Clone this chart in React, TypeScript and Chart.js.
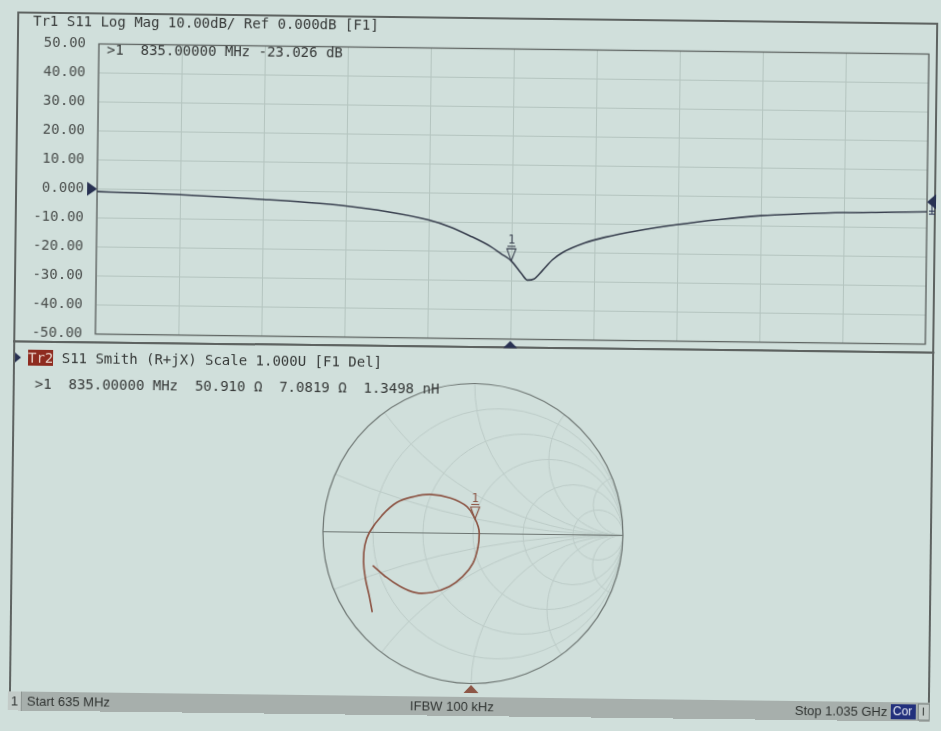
import React, { useEffect, useRef } from "react";
import { Chart, registerables } from "chart.js";

Chart.register(...registerables);

// ---------- data ----------
const freqMHz = [635, 655, 675, 695, 715, 735, 755, 775, 795, 805, 815, 825, 830, 835, 840, 843, 846, 850, 855, 860, 870, 880, 895, 915, 935, 955, 975, 995, 1015, 1035];
const s11dB = [-0.9, -1.2, -1.6, -2.2, -2.9, -3.7, -4.8, -6.6, -9.3, -11.5, -14.6, -18.2, -20.6, -23.03, -27.4, -29.6, -29.2, -26.3, -22.4, -19.8, -16.6, -14.5, -12.2, -9.8, -7.9, -6.4, -5.6, -5.0, -4.7, -4.4];
const startMHz = 635;
const stopMHz = 1035;
const freqStep = 40;
const dbMin = -50;
const dbMax = 50;
const dbStep = 10;
const refLevel = 0;
const markerFreq = 835;
const markerDb = -23.026;

const gammaRe = [-0.665, -0.687, -0.713, -0.727, -0.72, -0.69, -0.609, -0.509, -0.398, -0.287, -0.153, -0.042, 0.013, 0.035, 0.042, 0.035, 0.002, -0.065, -0.153, -0.265, -0.375, -0.487, -0.587, -0.665];
const gammaIm = [-0.532, -0.421, -0.31, -0.197, -0.088, 0.0, 0.112, 0.201, 0.241, 0.257, 0.235, 0.179, 0.097, 0.045, 0.001, -0.088, -0.199, -0.288, -0.355, -0.395, -0.399, -0.355, -0.288, -0.221];
const smithMarkerIndex = 12;
const resistanceCircles = [0.2, 0.5, 1, 2, 5];
const reactanceArcs = [0.2, 0.5, 1, 2, 5];
const markerR = 50.91;
const markerX = 7.0819;
const markerL = 1.3498;

// ---------- style ----------
const BG = "#d0dfdb";
const GRID = "#b4c4bf";
const SMITH_GRID = "#bccbc7";
const FRAME = "#5e6361";
const NAVY = "#283152";
const TRACE1 = "#3a4150";
const BROWN = "#8d5646";
const TEXT = "#363938";
const LABEL = "#4a4e4c";
const MONO = '"DejaVu Sans Mono", "Liberation Mono", monospace';
const SANS = '"Liberation Sans", Arial, sans-serif';

const logMagDecor = {
  id: "logMagDecor",
  beforeDatasetsDraw(chart: any) {
    const { ctx, chartArea: a } = chart;
    ctx.save();
    ctx.strokeStyle = FRAME;
    ctx.lineWidth = 1.3;
    ctx.strokeRect(a.left, a.top, a.right - a.left, a.bottom - a.top);
    ctx.restore();
  },
  afterDatasetsDraw(chart: any) {
    const { ctx, chartArea: a, scales } = chart;
    const x = scales.x;
    const y = scales.y;
    const y0 = y.getPixelForValue(refLevel);
    ctx.save();
    ctx.fillStyle = NAVY;
    // left reference triangle
    ctx.beginPath();
    ctx.moveTo(a.left - 10, y0 - 7);
    ctx.lineTo(a.left, y0);
    ctx.lineTo(a.left - 10, y0 + 7);
    ctx.closePath();
    ctx.fill();
    // right reference triangle
    ctx.beginPath();
    ctx.moveTo(a.right + 9, y0 - 5);
    ctx.lineTo(a.right, y0 + 3);
    ctx.lineTo(a.right + 9, y0 + 10);
    ctx.closePath();
    ctx.fill();
    ctx.strokeStyle = NAVY;
    ctx.lineWidth = 1;
    ctx.beginPath();
    ctx.moveTo(a.right + 2, y0 + 12);
    ctx.lineTo(a.right + 8, y0 + 12);
    ctx.moveTo(a.right + 5, y0 + 6);
    ctx.lineTo(a.right + 5, y0 + 15);
    ctx.moveTo(a.right + 2, y0 + 15);
    ctx.lineTo(a.right + 8, y0 + 15);
    ctx.stroke();
    // stimulus marker at bottom
    const mx = x.getPixelForValue(markerFreq);
    ctx.beginPath();
    ctx.moveTo(mx - 7, a.bottom + 9);
    ctx.lineTo(mx, a.bottom + 2);
    ctx.lineTo(mx + 7, a.bottom + 9);
    ctx.closePath();
    ctx.fill();
    // marker 1 on trace
    const my = y.getPixelForValue(markerDb);
    ctx.strokeStyle = TRACE1;
    ctx.lineWidth = 1.1;
    ctx.beginPath();
    ctx.moveTo(mx, my);
    ctx.lineTo(mx - 4.5, my - 12);
    ctx.lineTo(mx + 4.5, my - 12);
    ctx.closePath();
    ctx.stroke();
    ctx.beginPath();
    ctx.moveTo(mx - 4, my - 14.5);
    ctx.lineTo(mx + 4, my - 14.5);
    ctx.stroke();
    ctx.fillStyle = TRACE1;
    ctx.font = "12px " + MONO;
    ctx.textAlign = "center";
    ctx.textBaseline = "bottom";
    ctx.fillText("1", mx, my - 14);
    ctx.restore();
  },
};

const smithDecor = {
  id: "smithDecor",
  beforeDatasetsDraw(chart: any) {
    const { ctx, scales } = chart;
    const x = scales.x;
    const y = scales.y;
    const cx = x.getPixelForValue(0);
    const cy = y.getPixelForValue(0);
    const R = x.getPixelForValue(1) - cx;
    ctx.save();
    ctx.beginPath();
    ctx.arc(cx, cy, R, 0, Math.PI * 2);
    ctx.clip();
    ctx.strokeStyle = SMITH_GRID;
    ctx.lineWidth = 1;
    resistanceCircles.forEach((r) => {
      const c = r / (1 + r);
      const rad = 1 / (1 + r);
      ctx.beginPath();
      ctx.arc(x.getPixelForValue(c), cy, rad * R, 0, Math.PI * 2);
      ctx.stroke();
    });
    reactanceArcs.forEach((xv) => {
      [1, -1].forEach((sgn) => {
        ctx.beginPath();
        ctx.arc(x.getPixelForValue(1), y.getPixelForValue(sgn / xv), R / xv, 0, Math.PI * 2);
        ctx.stroke();
      });
    });
    ctx.restore();
    ctx.save();
    ctx.strokeStyle = "#6c7471";
    ctx.lineWidth = 1.2;
    ctx.beginPath();
    ctx.arc(cx, cy, R, 0, Math.PI * 2);
    ctx.stroke();
    ctx.beginPath();
    ctx.moveTo(x.getPixelForValue(-1), cy);
    ctx.lineTo(x.getPixelForValue(1), cy);
    ctx.stroke();
    ctx.restore();
  },
  afterDatasetsDraw(chart: any) {
    const { ctx, scales } = chart;
    const x = scales.x;
    const y = scales.y;
    const px = x.getPixelForValue(gammaRe[smithMarkerIndex]);
    const py = y.getPixelForValue(gammaIm[smithMarkerIndex]);
    ctx.save();
    ctx.strokeStyle = BROWN;
    ctx.lineWidth = 1.1;
    ctx.beginPath();
    ctx.moveTo(px, py);
    ctx.lineTo(px - 4.5, py - 12);
    ctx.lineTo(px + 4.5, py - 12);
    ctx.closePath();
    ctx.stroke();
    ctx.beginPath();
    ctx.moveTo(px - 4, py - 14.5);
    ctx.lineTo(px + 4, py - 14.5);
    ctx.stroke();
    ctx.fillStyle = BROWN;
    ctx.font = "12px " + MONO;
    ctx.textAlign = "center";
    ctx.textBaseline = "bottom";
    ctx.fillText("1", px, py - 14);
    // stimulus marker under the chart
    const cx = x.getPixelForValue(0);
    const by = y.getPixelForValue(-1);
    ctx.beginPath();
    ctx.moveTo(cx - 7.5, by + 9.5);
    ctx.lineTo(cx, by + 1.5);
    ctx.lineTo(cx + 7.5, by + 9.5);
    ctx.closePath();
    ctx.fill();
    ctx.restore();
  },
};

function fmtDb(v: number) {
  return v === 0 ? "0.000" : v.toFixed(2);
}

export default function App() {
  const topRef = useRef<HTMLCanvasElement | null>(null);
  const smithRef = useRef<HTMLCanvasElement | null>(null);

  useEffect(() => {
    const top = new Chart(topRef.current as HTMLCanvasElement, {
      type: "line",
      data: {
        datasets: [
          {
            data: freqMHz.map((f, i) => ({ x: f, y: s11dB[i] })),
            borderColor: TRACE1,
            borderWidth: 1.6,
            pointRadius: 0,
            cubicInterpolationMode: "monotone",
            fill: false,
          },
        ],
      },
      options: {
        responsive: false,
        animation: false,
        events: [],
        layout: { padding: { left: 0, right: 16, top: 48.5, bottom: 19 } },
        plugins: { legend: { display: false }, tooltip: { enabled: false }, title: { display: false } },
        scales: {
          x: {
            type: "linear",
            min: startMHz,
            max: stopMHz,
            ticks: { display: false, stepSize: freqStep, autoSkip: false },
            grid: { color: GRID, drawTicks: false, lineWidth: 1 },
            border: { display: false },
            afterFit: (s: any) => {
              s.height = 0;
            },
          },
          y: {
            min: dbMin,
            max: dbMax,
            ticks: {
              stepSize: dbStep,
              color: LABEL,
              font: { family: MONO, size: 14 },
              padding: 13,
              autoSkip: false,
              callback: (v: any) => fmtDb(Number(v)),
            },
            grid: { color: GRID, drawTicks: false, lineWidth: 1 },
            border: { display: false },
            afterFit: (s: any) => {
              s.width = 95;
            },
          },
        },
      } as any,
      plugins: [logMagDecor],
    } as any);

    const smith = new Chart(smithRef.current as HTMLCanvasElement, {
      type: "scatter",
      data: {
        datasets: [
          {
            data: gammaRe.map((r, i) => ({ x: r, y: gammaIm[i] })),
            showLine: true,
            borderColor: BROWN,
            borderWidth: 1.7,
            pointRadius: 0,
            tension: 0.4,
            fill: false,
          },
        ],
      },
      options: {
        responsive: false,
        animation: false,
        events: [],
        layout: { padding: { left: 325, right: 316, top: 33.5, bottom: 11.5 } },
        plugins: { legend: { display: false }, tooltip: { enabled: false } },
        scales: {
          x: { type: "linear", display: false, min: -1, max: 1 },
          y: { type: "linear", display: false, min: -1, max: 1 },
        },
      } as any,
      plugins: [smithDecor],
    } as any);

    return () => {
      top.destroy();
      smith.destroy();
    };
  }, []);

  const mono: React.CSSProperties = {
    position: "absolute",
    fontFamily: MONO,
    fontSize: 14,
    lineHeight: "16px",
    whiteSpace: "pre",
    color: TEXT,
  };
  const sans: React.CSSProperties = {
    position: "absolute",
    fontFamily: SANS,
    fontSize: 13,
    lineHeight: "19px",
    whiteSpace: "pre",
    color: "#2f3331",
    top: 0,
  };

  return (
    <div style={{ position: "fixed", left: 0, top: 0, width: 941, height: 731, background: BG, overflow: "hidden" }}>
      <div
        style={{
          position: "absolute",
          left: 0,
          top: 0,
          width: 941,
          height: 731,
          transform: "rotate(0.7deg)",
          transformOrigin: "470px 365px",
        }}
      >
        {/* pane frames */}
        <div style={{ position: "absolute", left: 13, top: 17, width: 921, height: 331, border: `2px solid ${FRAME}`, boxSizing: "border-box" }} />
        <div style={{ position: "absolute", left: 13, top: 346, width: 921, height: 352, borderLeft: `2px solid ${FRAME}`, borderRight: `2px solid ${FRAME}`, borderTop: `1px solid ${FRAME}`, boxSizing: "border-box" }} />

        <canvas ref={topRef} width={941} height={360} style={{ position: "absolute", left: 0, top: 0, width: 941, height: 360 }} />
        <canvas ref={smithRef} width={941} height={345} style={{ position: "absolute", left: 0, top: 350, width: 941, height: 345 }} />

        {/* top pane texts */}
        <div style={{ ...mono, left: 29, top: 17.5 }}>Tr1 S11 Log Mag 10.00dB/ Ref 0.000dB [F1]</div>
        <div style={{ ...mono, left: 103, top: 45.5 }}>{`>1  ${markerFreq.toFixed(5)} MHz ${markerDb.toFixed(3)} dB`}</div>

        {/* smith pane texts */}
        <div
          style={{
            position: "absolute",
            left: 15,
            top: 358,
            width: 0,
            height: 0,
            borderTop: "5.5px solid transparent",
            borderBottom: "5.5px solid transparent",
            borderLeft: `6px solid ${NAVY}`,
          }}
        />
        <div style={{ ...mono, left: 28, top: 355 }}>
          <span style={{ background: "#8e2b1f", color: "#e6cdc4" }}>Tr2</span>
          {" S11 Smith (R+jX) Scale 1.000U [F1 Del]"}
        </div>
        <div style={{ ...mono, left: 35, top: 381 }}>
          {`>1  ${markerFreq.toFixed(5)} MHz  ${markerR.toFixed(3)} \u03A9  ${markerX.toFixed(4)} \u03A9  ${markerL.toFixed(4)} nH`}
        </div>

        {/* status bar */}
        <div style={{ position: "absolute", left: 12, top: 697, width: 922, height: 19, background: "#a7afac" }}>
          <div style={{ position: "absolute", left: 0, top: 0, width: 14, height: 19, background: "#c3cbc8", borderRight: "1px solid #8c9491", boxSizing: "border-box" }} />
          <div style={{ ...sans, left: 3 }}>1</div>
          <div style={{ ...sans, left: 19 }}>{`Start ${startMHz} MHz`}</div>
          <div style={{ ...sans, left: 444, transform: "translateX(-50%)" }}>IFBW 100 kHz</div>
          <div style={{ ...sans, left: 787 }}>{`Stop ${(stopMHz / 1000).toFixed(3)} GHz`}</div>
          <div style={{ position: "absolute", left: 883, top: 2, width: 25, height: 15, background: "#22307c" }} />
          <div style={{ ...sans, left: 885, top: 0, color: "#e8ecf4", fontSize: 12 }}>Cor</div>
          <div style={{ position: "absolute", left: 910, top: 1, width: 12, height: 17, background: "#c3cbc8", border: "1px solid #7f8784", boxSizing: "border-box" }} />
          <div style={{ ...sans, left: 914, top: 0, fontSize: 11 }}>I</div>
        </div>
      </div>
    </div>
  );
}
